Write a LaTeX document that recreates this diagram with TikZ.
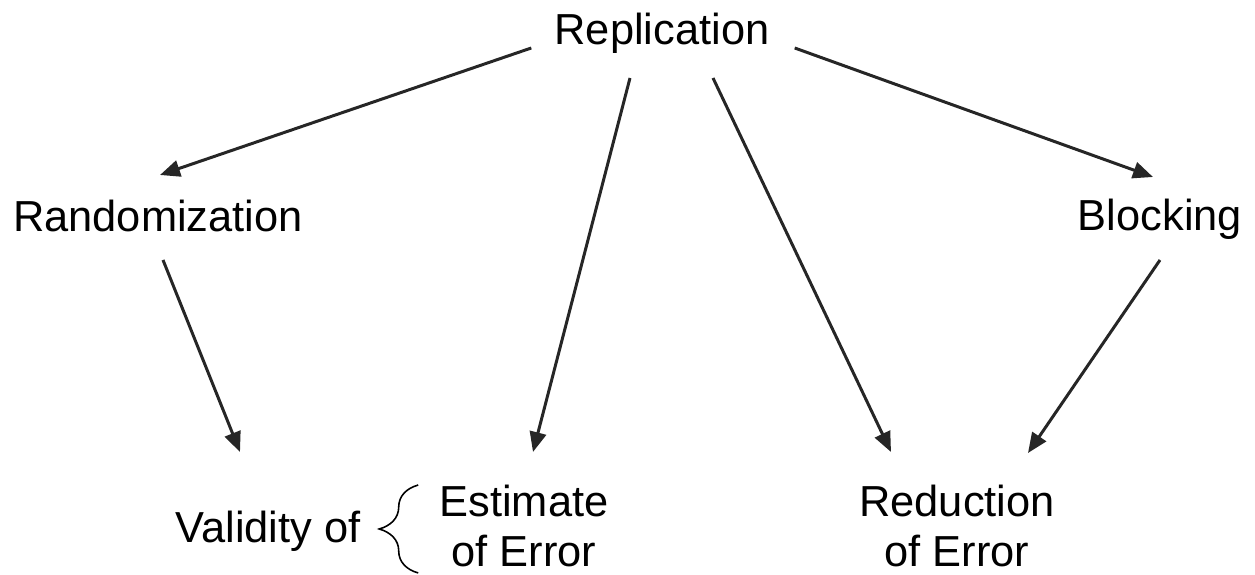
\documentclass[tikz,border=0pt]{standalone}
\usepackage{fontspec}
\setmainfont{Liberation Sans}
\usetikzlibrary{arrows.meta,decorations.pathreplacing}
\definecolor{arrowgray}{RGB}{38,38,38}
\tikzset{
  lbl/.style={inner sep=0pt, anchor=base, align=center,
    font=\fontsize{24.7pt}{28.5pt}\selectfont},
  arr/.style={draw=arrowgray, line width=1.7pt,
    -{Triangle[length=0.4cm,width=0.33cm]}},
}
\begin{document}
\begin{tikzpicture}
\useasboundingbox (0,0) rectangle (25.1,-11.5);

\node[lbl] (rep) at (13.24,-0.90) {Replication};
\node[lbl] (rand) at (3.16,-4.64) {Randomization};
\node[lbl] (blk) at (23.2,-4.62) {Blocking};
\node[lbl] (val) at (5.36,-10.86) {Validity of};
\node[lbl] (est) at (10.48,-11.34) {Estimate\\of Error};
\node[lbl] (red) at (19.14,-11.34) {Reduction\\of Error};

\draw[arr] ([shift={(-0.46,-0.06)}]rep.base west) -- ([shift={(0.04,1.14)}]rand.base);
\draw[arr] ([shift={(-0.64,-0.66)}]rep.base) -- ([shift={(0.18,2.30)}]est.base);
\draw[arr] ([shift={(1.02,-0.66)}]rep.base) -- ([shift={(-1.32,2.30)}]red.base);
\draw[arr] ([shift={(0.5,-0.06)}]rep.base east) -- ([shift={(-0.14,1.08)}]blk.base);
\draw[arr] ([shift={(0.1,-0.56)}]rand.base) -- ([shift={(-0.56,1.82)}]val.base);
\draw[arr] ([shift={(0,-0.58)}]blk.base) -- ([shift={(1.42,2.28)}]red.base);

% brace in front of the two lines
\draw[line width=0.9pt, decorate, decoration={brace, amplitude=0.78cm}]
  ([shift={(-0.42,-0.12)}]est.base west) -- ([shift={(-0.42,1.64)}]est.base west);
\end{tikzpicture}
\end{document}
